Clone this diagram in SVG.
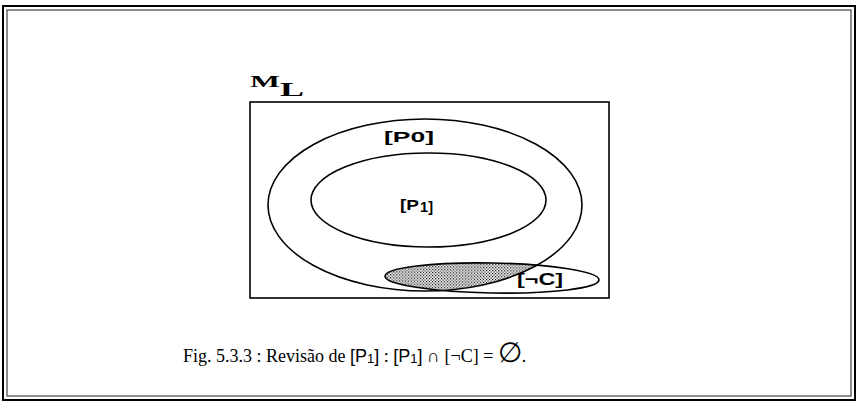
<svg xmlns="http://www.w3.org/2000/svg" width="857" height="403" viewBox="0 0 857 403">
  <style>
    .line { fill: none; stroke: #000; stroke-width: 1.6; }
    .lbl { font-family: "Liberation Sans", Arial, sans-serif; font-weight: bold; fill: #000; }
    .cap { font-family: "Liberation Serif", "Times New Roman", serif; font-size: 18px; fill: #000; }
    .sans { font-family: "Liberation Sans", Arial, sans-serif; }
  </style>
  <defs>
    <pattern id="hatch" width="3" height="3" patternUnits="userSpaceOnUse">
      <rect width="3" height="3" fill="#fff"/>
      <rect x="0" y="0" width="1.2" height="1.2" fill="#000"/>
      <rect x="1.5" y="1.5" width="1.2" height="1.2" fill="#000"/>
    </pattern>
    <clipPath id="clipP0">
      <ellipse cx="425" cy="205" rx="157" ry="86"/>
    </clipPath>
  </defs>
  <rect width="857" height="403" fill="#fff"/>
  <g id="frame">
    <rect x="3" y="6" width="852" height="394" fill="none" stroke="#000" stroke-width="2"/>
    <rect x="7" y="10" width="844" height="386" fill="none" stroke="#444" stroke-width="1.2"/>
  </g>
  <g id="universe">
    <rect x="250" y="102" width="359" height="196" class="line"/>
    <text x="250" y="87" font-family="Liberation Serif, serif" font-weight="bold" font-size="17" textLength="30" lengthAdjust="spacingAndGlyphs">M</text>
    <text x="280" y="96" font-family="Liberation Serif, serif" font-weight="bold" font-size="18" textLength="24" lengthAdjust="spacingAndGlyphs">L</text>
  </g>
  <g id="negC-shade">
    <ellipse cx="492" cy="278" rx="107" ry="15" transform="rotate(1 492 278)" fill="url(#hatch)" clip-path="url(#clipP0)"/>
  </g>
  <g id="P0">
    <ellipse cx="425" cy="205" rx="157" ry="86" class="line"/>
    <text x="384" y="142" class="lbl" font-size="15" textLength="50" lengthAdjust="spacingAndGlyphs">[P0]</text>
  </g>
  <g id="P1">
    <ellipse cx="428.5" cy="200" rx="117.5" ry="47" class="line"/>
    <text x="400" y="210" class="lbl" font-size="14" textLength="19" lengthAdjust="spacingAndGlyphs">[P</text>
    <text x="420" y="212" class="lbl" font-size="14" textLength="13" lengthAdjust="spacingAndGlyphs">1]</text>
  </g>
  <g id="negC">
    <ellipse cx="492" cy="278" rx="107" ry="15" transform="rotate(1 492 278)" class="line"/>
    <text x="517" y="285" class="lbl" font-size="17" textLength="46" lengthAdjust="spacingAndGlyphs">[¬C]</text>
  </g>
  <g id="caption">
    <text x="183" y="362" class="cap">Fig. 5.3.3 : Revisão de <tspan class="sans">[P</tspan><tspan class="sans" font-size="13" dy="1">1</tspan><tspan class="sans" dy="-1">]</tspan> : <tspan class="sans">[P</tspan><tspan class="sans" font-size="13" dy="1">1</tspan><tspan class="sans" dy="-1">]</tspan> ∩ [¬C] = <tspan class="sans" font-size="28">∅</tspan>.</text>
  </g>
</svg>
